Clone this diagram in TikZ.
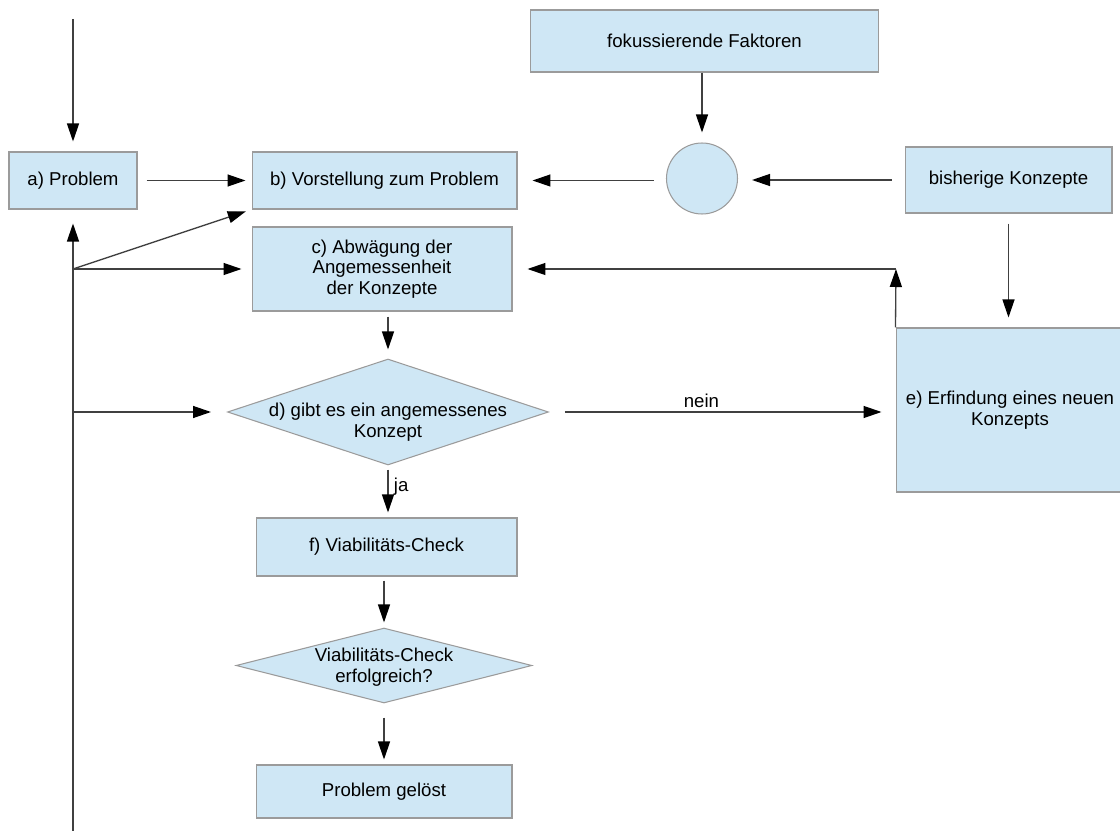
\documentclass[tikz,border=0pt]{standalone}
\usepackage{fontspec}
\setmainfont{Liberation Sans}
\usetikzlibrary{arrows.meta,shapes.geometric}
\definecolor{boxfill}{HTML}{CFE7F5}
\definecolor{boxline}{HTML}{9B9B9B}
\definecolor{wire}{HTML}{404040}
\tikzset{
 stage/.style={draw=boxline,fill=boxfill,line width=.6pt,inner sep=0pt,align=center},
 query/.style={diamond,draw=boxline,fill=boxfill,line width=.6pt,inner sep=0pt},
 flow/.style={draw=wire,line width=.75pt,-{Triangle[length=.36cm,width=.24cm,color=black]}}
}

\begin{document}
\begin{tikzpicture}[x=.02cm,y=-.02cm,font=\fontsize{10.6}{11.8}\selectfont]
\useasboundingbox (0,0) rectangle (1120,831);
% boxes
\node[stage,minimum width=2.56cm,minimum height=1.14cm] (a) at (73,180.5) {a) Problem};
\node[stage,minimum width=5.3cm,minimum height=1.14cm] (b) at (384.5,180.5) {b) Vorstellung zum Problem};
\node[stage,minimum width=5.2cm,minimum height=1.68cm] (c) at (382,269) {c) Abwägung der\\Angemessenheit\\der Konzepte};
\node[stage,minimum width=6.98cm,minimum height=1.24cm] (fok) at (704.5,41) {fokussierende Faktoren};
\node[circle,draw=boxline,fill=boxfill,line width=.6pt,minimum size=1.42cm] (mix) at (702,178.5) {};
\node[stage,minimum width=4.14cm,minimum height=1.32cm] (bis) at (1008.5,180) {bisherige Konzepte};
\node[stage,minimum width=4.56cm,minimum height=3.28cm] (e) at (1010,410) {e) Erfindung eines neuen\\Konzepts};
\node[query,minimum width=6.42cm,minimum height=2.12cm,label={[align=center,yshift=-.2cm]center:d) gibt es ein angemessenes\\Konzept}] (d) at (388,412) {};
\node[stage,minimum width=5.22cm,minimum height=1.16cm] (f) at (386.5,547) {f) Viabilitäts-Check};
\node[query,minimum width=5.92cm,minimum height=1.5cm,label={[align=center,yshift=-.03cm]center:Viabilitäts-Check\\erfolgreich?}] (g) at (384,665.5) {};
\node[stage,minimum width=5.12cm,minimum height=1.06cm] (h) at (384,791.5) {Problem gelöst};
% free ends and bends
\coordinate (top) at (73,19); \coordinate (bot) at (73,831);
\coordinate (j1) at (73,269); \coordinate (j2) at (73,412);
\coordinate (knee) at (896,269);
% left feedback line
\draw[flow,shorten >=.2cm] (top) -- (a.north);
\draw[flow,shorten >=.28cm] (bot) -- (a.south);
\draw[flow,shorten >=.12cm] (j1) -- (b.south west);
\draw[flow,shorten >=.2cm] (j1) -- (c.west);
\draw[flow,shorten >=.32cm] (j2) -- (d.west);
\draw[flow,shorten <=.18cm,shorten >=.12cm] (a) -- (b);
% upper right
\draw[flow,shorten >=.2cm] (fok.south -| mix) -- (mix.north);
\draw[flow,shorten <=.26cm,shorten >=.28cm] (bis.west) -- (bis.west -| mix.east);
\draw[flow,shorten <=.24cm,shorten >=.3cm] (b.east -| mix.west) -- (b.east);
\draw[flow,shorten <=.2cm,shorten >=.2cm] (bis.south) -- (bis.south |- e.north);
\draw[flow] (e.north west) -- (knee);
\draw[flow,shorten >=.3cm] (knee) -- (c.east);
% main column
\draw[flow,shorten <=.1cm,shorten >=.18cm] (c.south -| d.north) -- (d.north);
\draw[flow,shorten <=.32cm,shorten >=.28cm] (d.east) -- node[above,pos=.44,inner sep=2pt]{nein} (d.east -| e.west);
\draw[flow,shorten <=.08cm,shorten >=.1cm] (d.south) -- node[right,pos=.4,inner sep=3pt]{ja} (d.south |- f.north);
\draw[flow,shorten <=.08cm,shorten >=.1cm] (f.south -| g.north) -- (g.north);
\draw[flow,shorten <=.28cm,shorten >=.1cm] (g.south) -- (h.north);
\end{tikzpicture}
\end{document}
